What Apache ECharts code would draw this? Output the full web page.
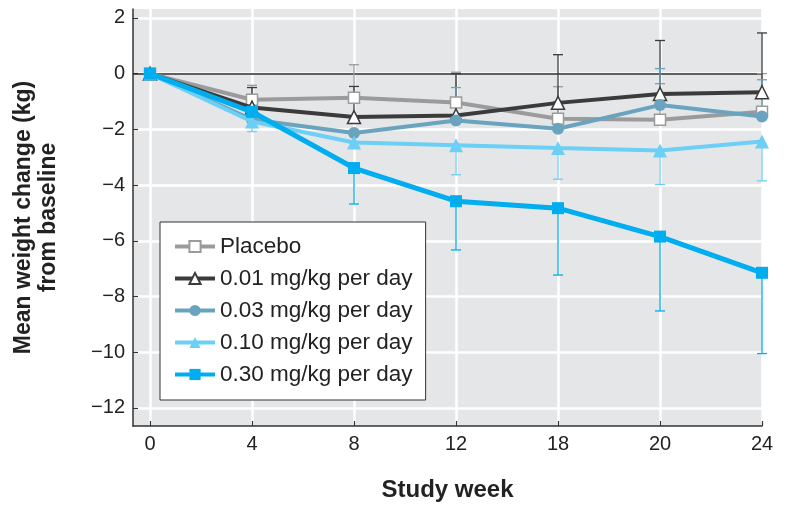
<!DOCTYPE html>
<html>
<head>
<meta charset="utf-8">
<script src="https://cdn.jsdelivr.net/npm/echarts@6/dist/echarts.min.js"></script>
<style>html,body{margin:0;padding:0;background:#fff}#c{width:785px;height:508px}</style>
</head>
<body>
<div id="c"></div>
<script>
// ---- data ----
var weeks = ['0', '4', '8', '12', '18', '20', '24'];
var yTicks = [-12, -10, -8, -6, -4, -2, 0, 2];
var seriesNames = ['Placebo', '0.01 mg/kg per day', '0.03 mg/kg per day', '0.10 mg/kg per day', '0.30 mg/kg per day'];
var placebo  = [0, -0.94, -0.87, -1.04, -1.62, -1.66, -1.37];
var dose001  = [0, -1.22, -1.56, -1.50, -1.05, -0.73, -0.67];
var dose003  = [0, -1.65, -2.13, -1.68, -1.98, -1.13, -1.54];
var dose010  = [0, -1.72, -2.47, -2.57, -2.67, -2.76, -2.44];
var dose030  = [0, -1.37, -3.39, -4.58, -4.83, -5.85, -7.15];
// error bar end values (null = none drawn)
var placeboErr = [null, -0.42, 0.32, 0.05, -0.47, -0.36, 0.00];
var dose001Err = [null, -0.50, -0.46, 0.00, 0.68, 1.19, 1.46];
var dose003Err = [null, null, null, -0.50, -1.00, 0.18, -0.22];
var dose010Err = [null, -2.08, null, -3.63, -3.79, -3.98, -3.85];
var dose030Err = [null, null, -4.68, -6.33, -7.23, -8.52, -10.05];

var means = [placebo, dose001, dose003, dose010, dose030];
var errs = [placeboErr, dose001Err, dose003Err, dose010Err, dose030Err];
var colors = ['#9b9b9b', '#3b3b3b', '#6aa3be', '#6ccff5', '#00adee'];
var symbols = ['rect', 'triangle', 'circle', 'triangle', 'rect'];
var symbolSizes = [11, 13, 12, 14, 12];
var hollow = [true, true, false, false, false];
var lineWidths = [4, 4, 4, 4, 5];

function pts(arr) { return arr.map(function (v, i) { return [i, v]; }); }
function errPts(m, e) {
  var out = [];
  e.forEach(function (v, i) { if (v !== null) out.push([i, m[i], v]); });
  return out;
}

var series = [];
errs.forEach(function (e, k) {
  series.push({
    type: 'custom',
    name: seriesNames[k] + ' err',
    silent: true,
    z: 2,
    data: errPts(means[k], e),
    renderItem: function (params, api) {
      var x = api.value(0), m = api.value(1), end = api.value(2);
      var p0 = api.coord([x, m]);
      var p1 = api.coord([x, end]);
      var hw = 5;
      var st = { stroke: colors[k], lineWidth: 1.3 };
      return {
        type: 'group',
        children: [
          { type: 'line', shape: { x1: p0[0], y1: p0[1], x2: p1[0], y2: p1[1] }, style: st },
          { type: 'line', shape: { x1: p1[0] - hw, y1: p1[1], x2: p1[0] + hw, y2: p1[1] }, style: st }
        ]
      };
    }
  });
});
means.forEach(function (m, k) {
  var s = {
    type: 'line',
    name: seriesNames[k],
    data: pts(m),
    z: 3 + k,
    symbol: symbols[k],
    symbolSize: symbolSizes[k],
    showAllSymbol: true,
    lineStyle: { color: colors[k], width: lineWidths[k] },
    itemStyle: hollow[k] ? { color: '#ffffff', borderColor: colors[k], borderWidth: 1.5 } : { color: colors[k], borderWidth: 0 },
    emphasis: { disabled: true },
    animation: false
  };
  if (k === 0) {
    s.markLine = {
      silent: true,
      symbol: 'none',
      label: { show: false },
      lineStyle: { color: '#2b2b2b', width: 1.5, type: 'solid' },
      data: [{ yAxis: 0 }],
      z: 1
    };
  }
  series.push(s);
});

var chart = echarts.init(document.getElementById('c'), null, { renderer: 'canvas' });
chart.setOption({
  animation: false,
  backgroundColor: '#ffffff',
  textStyle: { fontFamily: 'Liberation Sans, Arial, sans-serif' },
  grid: {
    left: 133, right: 23, top: 9, bottom: 82,
    show: true, backgroundColor: '#e5e6e8', borderWidth: 0
  },
  legend: {
    data: seriesNames,
    orient: 'vertical',
    left: 160, top: 222,
    backgroundColor: '#ffffff',
    borderColor: '#333333', borderWidth: 1,
    padding: [13, 13, 14, 13],
    itemGap: 9,
    itemWidth: 40, itemHeight: 14,
    lineStyle: { width: 4 },
    textStyle: { fontSize: 22.5, color: '#222', fontFamily: 'Liberation Sans, Arial, sans-serif' },
    selectedMode: false
  },
  xAxis: {
    type: 'value',
    min: -1 / 6, max: 6,
    name: 'Study week',
    nameLocation: 'middle',
    nameGap: 52,
    nameTextStyle: { fontSize: 24, fontWeight: 'bold', color: '#222' },
    axisLine: { show: true, onZero: false, lineStyle: { color: '#333', width: 1.5 } },
    axisTick: { show: true, inside: true, length: 5, customValues: [0, 1, 2, 3, 4, 5, 6], lineStyle: { color: '#333', width: 1.2 } },
    axisLabel: {
      customValues: [0, 1, 2, 3, 4, 5, 6],
      formatter: function (v) { return weeks[Math.round(v)]; },
      fontSize: 20, color: '#222', margin: 8
    },
    splitLine: { show: true, lineStyle: { color: '#ffffff', width: 2.5 } }
  },
  yAxis: {
    type: 'value',
    min: -12.65, max: 2.32,
    name: 'Mean weight change (kg)\nfrom baseline',
    nameLocation: 'middle',
    nameGap: 72,
    nameTextStyle: { fontSize: 23, fontWeight: 'bold', color: '#222', lineHeight: 25, align: 'center' },
    axisLine: { show: true, onZero: false, lineStyle: { color: '#333', width: 1.5 } },
    axisTick: { show: true, inside: true, length: 5, customValues: yTicks, lineStyle: { color: '#333', width: 1.2 } },
    axisLabel: {
      customValues: yTicks,
      formatter: function (v) { return v < 0 ? '\u2212' + Math.abs(v) : String(v); },
      fontSize: 20, color: '#222', margin: 8
    },
    splitLine: { show: true, lineStyle: { color: '#ffffff', width: 2.5 } }
  },
  series: series
});
</script>
</body>
</html>
